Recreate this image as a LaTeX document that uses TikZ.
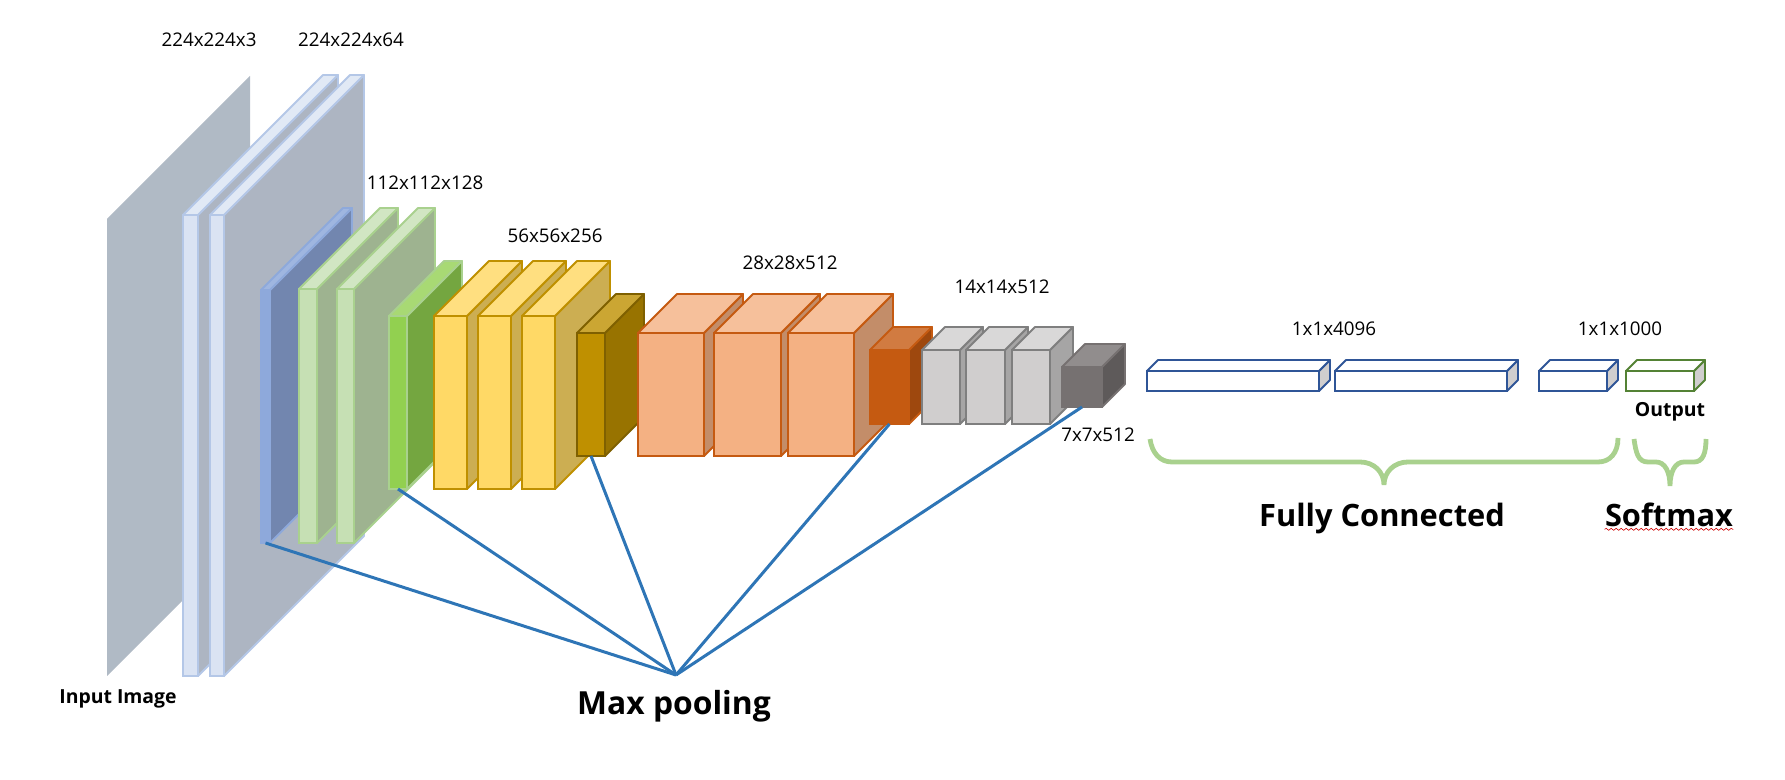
\documentclass[tikz,border=0pt]{standalone}
\usepackage{fontspec}
\setmainfont{Open Sans}
\usepackage{tikz}
\usetikzlibrary{decorations.pathmorphing}

\definecolor{frontpale}{HTML}{DAE3F3}
\definecolor{toppale}{HTML}{E1E9F5}
\definecolor{sidepale}{HTML}{ADB5C2}
\definecolor{linepale}{HTML}{B4C7E7}
\definecolor{frontblue}{HTML}{8EA9DB}
\definecolor{topblue}{HTML}{9FB6E0}
\definecolor{sideblue}{HTML}{7286AF}
\definecolor{lineblue}{HTML}{8EA9DB}
\definecolor{frontsage}{HTML}{C6E0B4}
\definecolor{topsage}{HTML}{D1E6C3}
\definecolor{sidesage}{HTML}{9EB390}
\definecolor{linesage}{HTML}{A9D18E}
\definecolor{frontgreen}{HTML}{92D050}
\definecolor{topgreen}{HTML}{A8D974}
\definecolor{sidegreen}{HTML}{74A640}
\definecolor{linegreen}{HTML}{A9D18E}
\definecolor{frontyellow}{HTML}{FFD966}
\definecolor{topyellow}{HTML}{FFDF80}
\definecolor{sideyellow}{HTML}{CCAE52}
\definecolor{lineyellow}{HTML}{BF9000}
\definecolor{frontgold}{HTML}{BF9000}
\definecolor{topgold}{HTML}{CBA633}
\definecolor{sidegold}{HTML}{987300}
\definecolor{linegold}{HTML}{7F6000}
\definecolor{frontpeach}{HTML}{F4B183}
\definecolor{toppeach}{HTML}{F6C09B}
\definecolor{sidepeach}{HTML}{C38D69}
\definecolor{linepeach}{HTML}{C55A11}
\definecolor{frontrust}{HTML}{C55A11}
\definecolor{toprust}{HTML}{D17B41}
\definecolor{siderust}{HTML}{9E480E}
\definecolor{linerust}{HTML}{C55A11}
\definecolor{frontsilver}{HTML}{D0CECE}
\definecolor{topsilver}{HTML}{D9D8D8}
\definecolor{sidesilver}{HTML}{A6A5A5}
\definecolor{linesilver}{HTML}{7F7F7F}
\definecolor{frontslate}{HTML}{767171}
\definecolor{topslate}{HTML}{918D8D}
\definecolor{sideslate}{HTML}{5E5A5A}
\definecolor{lineslate}{HTML}{767171}
\definecolor{frontnavy}{HTML}{FFFFFF}
\definecolor{topnavy}{HTML}{FFFFFF}
\definecolor{sidenavy}{HTML}{D0CECE}
\definecolor{linenavy}{HTML}{2F5597}
\definecolor{frontolive}{HTML}{FFFFFF}
\definecolor{topolive}{HTML}{FFFFFF}
\definecolor{sideolive}{HTML}{D0CECE}
\definecolor{lineolive}{HTML}{548235}
\definecolor{planegray}{HTML}{B0BAC5}
\definecolor{pooledge}{HTML}{2E75B6}
\definecolor{bracegreen}{HTML}{A9D18E}

\tikzset{
    dimlabel/.style={inner sep=0pt, font=\fontsize{9.4}{11}\selectfont},
    smalltitle/.style={inner sep=0pt, font=\fontsize{9.7}{11}\selectfont\bfseries},
    bigtitle/.style={inner sep=0pt, font=\fontsize{15.4}{18}\selectfont\bfseries},
    poolline/.style={draw=pooledge, line width=1.5pt},
    brace/.style={draw=bracegreen, line width=2.4pt}
}

\newcommand{\slab}[7]{
    \draw[fill=side#7, draw=line#7, line width=0.9pt, line join=round] (#3,#4) -- (#3+#6,#4-#6) -- (#3+#6,#5-#6) -- (#3,#5) -- cycle;
    \draw[fill=top#7, draw=line#7, line width=0.9pt, line join=round] (#2,#4) -- (#2+#6,#4-#6) -- (#3+#6,#4-#6) -- (#3,#4) -- cycle;
    \node[draw=line#7, fill=front#7, line width=0.9pt, inner sep=0pt, outer sep=0pt,
        minimum width={(#3-#2)*0.5pt}, minimum height={(#5-#4)*0.5pt}] (#1) at ({(#2+#3)/2},{(#4+#5)/2}) {};
}

\begin{document}
\begin{tikzpicture}[x=0.5pt, y=-0.5pt]
            \useasboundingbox (0,0) rectangle (1785,780);
            \fill[planegray] (107,219) -- (250,76) -- (250,533) -- (107,676) -- cycle;
            \slab{pa}{183}{198}{215}{676}{140}{pale}
            \slab{pb}{210}{224}{215}{676}{140}{pale}
            \slab{ba}{261}{270}{290}{543}{82}{blue}
            \slab{sa}{299}{317}{289}{543}{81}{sage}
            \slab{sb}{337}{354}{289}{543}{81}{sage}
            \slab{ga}{389}{407}{316}{489}{55}{green}
            \slab{ya}{434}{467}{316}{489}{55}{yellow}
            \slab{yb}{478}{511}{316}{489}{55}{yellow}
            \slab{yc}{522}{555}{316}{489}{55}{yellow}
            \slab{da}{577}{605}{333}{456}{39}{gold}
            \slab{oa}{638}{704}{333}{456}{39}{peach}
            \slab{ob}{714}{781}{333}{456}{39}{peach}
            \slab{oc}{788}{854}{333}{456}{39}{peach}
            \slab{ra}{870}{909}{350}{424}{23}{rust}
            \slab{ca}{922}{960}{350}{424}{23}{silver}
            \slab{cb}{966}{1005}{350}{424}{23}{silver}
            \slab{cc}{1012}{1050}{350}{424}{23}{silver}
            \slab{ta}{1062}{1102}{367}{407}{23}{slate}
            \slab{fa}{1147}{1319}{371}{391}{11}{navy}
            \slab{fb}{1335}{1507}{371}{391}{11}{navy}
            \slab{fc}{1539}{1607}{371}{391}{11}{navy}
            \slab{out}{1626}{1694}{371}{391}{11}{olive}

            \coordinate (pool) at (676,675);
            \draw[poolline] (ba.south) -- (pool);
            \draw[poolline] (ga.south) -- (pool);
            \draw[poolline] (da.south) -- (pool);
            \draw[poolline] (ra.south) -- (pool);
            \draw[poolline] (ta.south) -- (pool);

            \draw[brace] (1150,439) .. controls (1152,453) and (1160,462) .. (1172,462) -- (1360,462)
                .. controls (1374,462) and (1384,472) .. (1384,485) .. controls (1384,472) and (1394,462) .. (1408,462)
                -- (1598,462) .. controls (1610,462) and (1618,453) .. (1618,438);
            \draw[brace] (1634,439) .. controls (1636,453) and (1638,462) .. (1648,462) -- (1656,462)
                .. controls (1665,462) and (1670,472) .. (1670,486) .. controls (1670,472) and (1675,462) .. (1684,462)
                -- (1694,462) .. controls (1703,462) and (1706,453) .. (1706,439);

            \node[dimlabel] (d1) at (209,40) {224x224x3};
            \node[dimlabel] (d2) at (351,40) {224x224x64};
            \node[dimlabel] (d3) at (425,183) {112x112x128};
            \node[dimlabel] (d4) at (555,236) {56x56x256};
            \node[dimlabel] (d5) at (790,263) {28x28x512};
            \node[dimlabel] (d6) at (1002,287) {14x14x512};
            \node[dimlabel] (d7) at (1098,435) {7x7x512};
            \node[dimlabel] (d8) at (1334,329) {1x1x4096};
            \node[dimlabel] (d9) at (1620,329) {1x1x1000};
            \node[smalltitle] (input) at (118,699) {Input Image};
            \node[smalltitle] (output) at (1670,412) {Output};
            \node[bigtitle, font=\fontsize{15.9}{18}\selectfont\bfseries] (maxpool) at (674,706) {Max pooling};
            \node[bigtitle] (fully) at (1382,519) {Fully Connected};
            \node[bigtitle] (softmax) at (1669,515) {Softmax};
            \draw[red!80!black, line width=0.3pt, decorate, decoration={snake, amplitude=0.5pt, segment length=2.5pt}]
                ([yshift=-1pt]softmax.south west) -- ([yshift=-1pt]softmax.south east);
        \end{tikzpicture}
\end{document}
